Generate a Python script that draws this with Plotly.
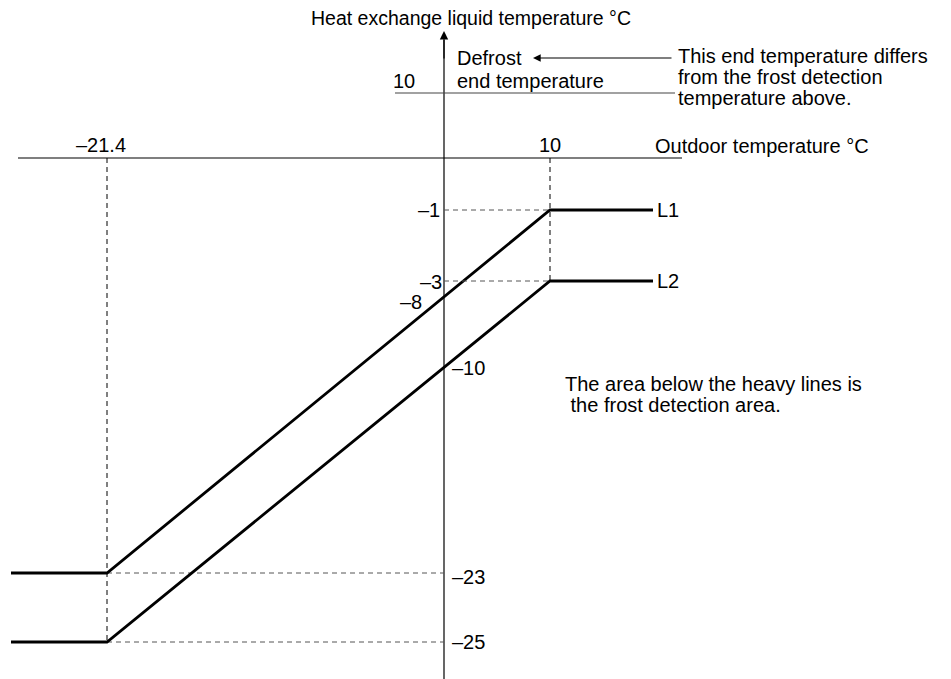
import numpy as np
import plotly.graph_objects as go

# ---------------- data ----------------
outdoor_breaks = [-21.4, 10]          # outdoor temperature corner points (°C)
L1_temps = [-23, -1]                  # heat exchange liquid temp at the corners, line L1
L2_temps = [-25, -3]                  # same for line L2
L1_intercept = -8                     # L1 value at 0 °C outdoor
L2_intercept = -10                    # L2 value at 0 °C outdoor
defrost_end_temp = 10                 # defrost end temperature
line_names = ["L1", "L2"]

# ---------------- schematic scales (diagram is not drawn to scale) ----------------
X_ANCHOR_VALS = [-21.4, 0, 10]
X_ANCHOR_PX = [107, 444, 550]
Y_ANCHOR_VALS = [-25, -23, -3, -1, 0, 10]
Y_ANCHOR_PX = [642, 573, 281, 210, 158, 93]
LINE_LEFT_PX, LINE_RIGHT_PX = 11, 653
W, H = 951, 679
PAGE_MARGIN = 8          # default body margin of the html page
FONT = "Liberation Sans, Arial, Helvetica, sans-serif"
FS = 20


def fmt(v):
    s = f"{abs(v):g}"
    return ("\u2013" + s) if v < 0 else s


def xs(v):
    return float(np.interp(v, X_ANCHOR_VALS, X_ANCHOR_PX))


def ys(v):
    return float(np.interp(v, Y_ANCHOR_VALS, Y_ANCHOR_PX))


fig = go.Figure()


def seg(x, y, color="black", width=1.0, dash="solid"):
    fig.add_trace(go.Scatter(x=x, y=y, mode="lines", hoverinfo="skip",
                             line=dict(color=color, width=width, dash=dash),
                             showlegend=False))


def text(x, y, s, xanchor="left", yanchor="middle", size=FS):
    dx = {"left": -3, "right": 3, "center": 0}[xanchor]
    fig.add_annotation(x=x + dx, y=y, text=s, showarrow=False, xanchor=xanchor,
                       yanchor=yanchor, borderpad=0,
                       font=dict(family=FONT, size=size, color="black"))


x0 = xs(0)
y0 = ys(0)

# axes
seg([18, 682], [y0, y0], width=1.2)
seg([x0, x0], [H, 40], width=1.2)
fig.add_annotation(x=x0, y=31, ax=x0, ay=60, xref="x", yref="y", axref="x", ayref="y",
                   showarrow=True, arrowhead=2, arrowsize=1.4, arrowwidth=1.2, arrowcolor="black", text="")

# defrost end temperature line
yd = ys(defrost_end_temp)
seg([395, 675], [yd, yd], color="#444", width=1.2)

# heavy lines and guides
for temps, name in zip([L1_temps, L2_temps], line_names):
    xa, xb = xs(outdoor_breaks[0]), xs(outdoor_breaks[1])
    ya, yb = ys(temps[0]), ys(temps[1])
    seg([x0, xb], [yb, yb], color="#555", width=1, dash="5px,4px")
    seg([xa, x0], [ya, ya], color="#555", width=1, dash="5px,4px")
    seg([LINE_LEFT_PX, xa, xb, LINE_RIGHT_PX], [ya, ya, yb, yb], width=2.8)
    text(LINE_RIGHT_PX + 6, yb, name)

# vertical guides
seg([xs(outdoor_breaks[0])] * 2, [y0, ys(L2_temps[0])], width=1, dash="5px,4px")
seg([xs(outdoor_breaks[1])] * 2, [y0, ys(L2_temps[1])], width=1, dash="5px,4px")

# tick-like labels
text(xs(outdoor_breaks[0]) - 6, y0 - 1, fmt(outdoor_breaks[0]), xanchor="center", yanchor="bottom")
text(xs(outdoor_breaks[1]), y0 - 1, fmt(outdoor_breaks[1]), xanchor="center", yanchor="bottom")
text(x0 - 6, ys(L1_temps[1]), fmt(L1_temps[1]), xanchor="right")
text(x0 - 4, ys(L2_temps[1]) + 1, fmt(L2_temps[1]), xanchor="right")


def crossing(temps):
    xa, xb = xs(outdoor_breaks[0]), xs(outdoor_breaks[1])
    return float(np.interp(x0, [xa, xb], [ys(temps[0]), ys(temps[1])]))


text(x0 - 24, crossing(L1_temps) + 5, fmt(L1_intercept), xanchor="right")
text(x0 + 10, crossing(L2_temps) + 1, fmt(L2_intercept), xanchor="left")
text(x0 + 10, ys(L1_temps[0]) + 4, fmt(L1_temps[0]), xanchor="left")
text(x0 + 10, ys(L2_temps[0]), fmt(L2_temps[0]), xanchor="left")
text(x0 - 31, yd - 12, fmt(defrost_end_temp), xanchor="right")

# titles and notes
text(313, 18, "Heat exchange liquid temperature \u00b0C", size=19.5)
text(657, y0 - 12, "Outdoor temperature \u00b0C")
text(459, 58, "Defrost")
text(459, 81, "end temperature")
fig.add_annotation(x=533, y=58, ax=673, ay=58, xref="x", yref="y", axref="x", ayref="y",
                   showarrow=True, arrowhead=2, arrowsize=1.4, arrowwidth=1.1, arrowcolor="black", text="")
text(680, 56, "This end temperature differs")
text(680, 77, "from the frost detection")
text(680, 98, "temperature above.")
text(567, 384, "The area below the heavy lines is")
text(567, 405, " the frost detection area.")

# the page adds an 8px body margin: shift the ranges so that drawing units equal screen pixels
fig.update_xaxes(range=[PAGE_MARGIN, W], visible=False)
fig.update_yaxes(range=[H, PAGE_MARGIN], visible=False)
fig.update_layout(width=W - PAGE_MARGIN, height=H - PAGE_MARGIN, margin=dict(l=0, r=0, t=0, b=0),
                  plot_bgcolor="white", paper_bgcolor="white", showlegend=False)
fig.write_html("out.html")
